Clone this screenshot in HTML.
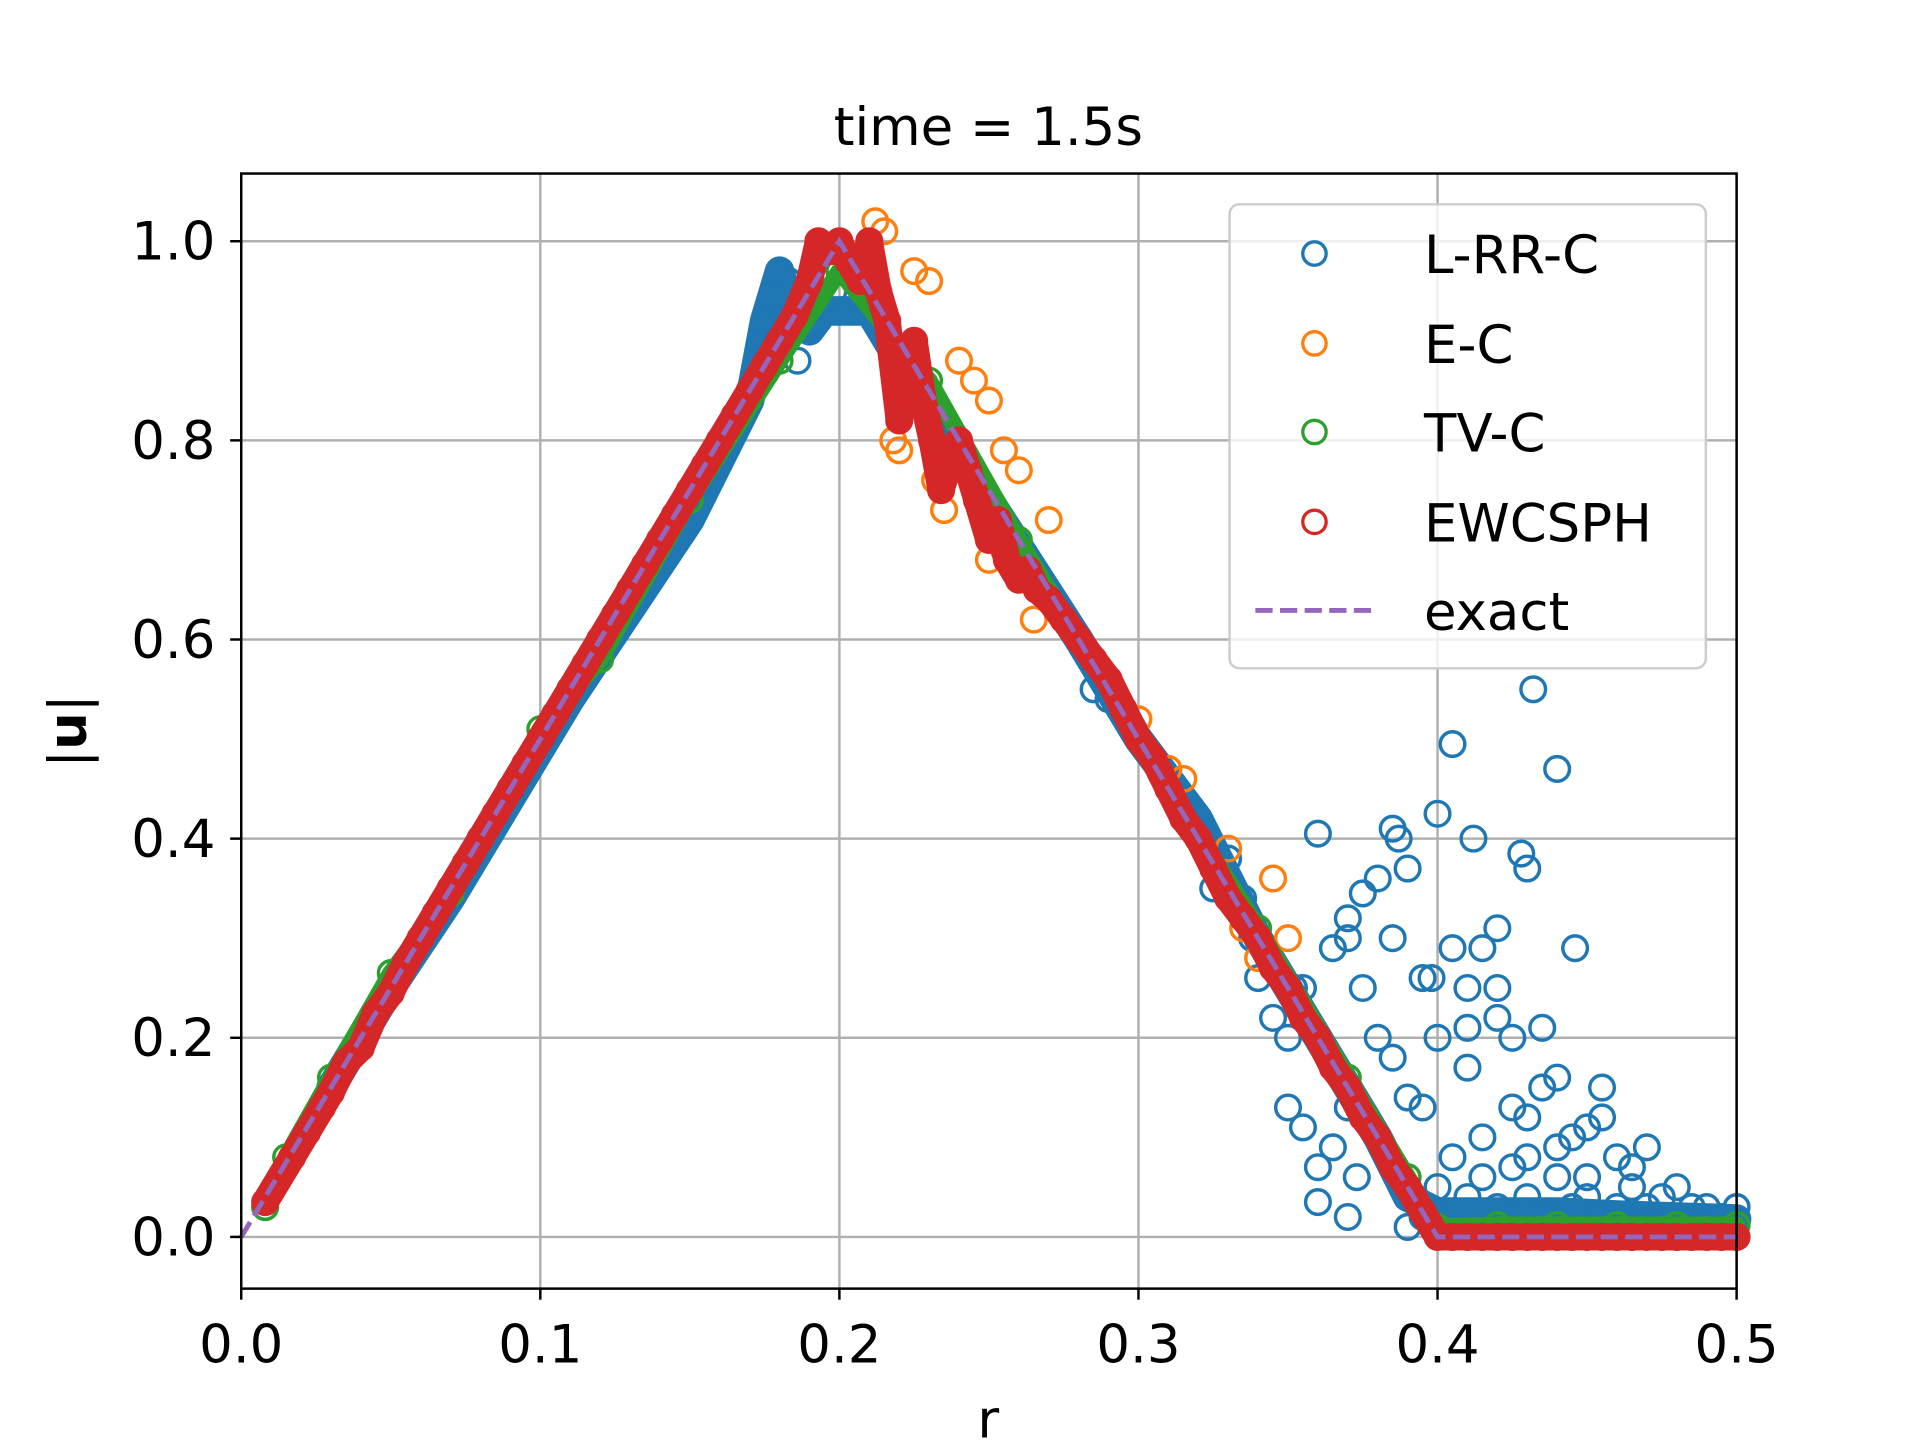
<!DOCTYPE html>
<html><head><meta charset="utf-8"><style>html,body{margin:0;padding:0;background:#fff}svg{display:block}text{font-family:"DejaVu Sans","Liberation Sans",sans-serif;fill:#000}</style></head>
<body>
<svg id="chart" width="1920" height="1440" viewBox="0 0 1560 1170" preserveAspectRatio="none" xmlns="http://www.w3.org/2000/svg">
<rect width="1560" height="1170" fill="#fff"/>
<text x="803" y="118" font-size="43" text-anchor="middle">time = 1.5s</text>
<g id="grid"></g>
<g id="marks"></g>
<rect x="196" y="141" width="1215" height="906" fill="none" stroke="#000" stroke-width="2"/>
<g id="ticks"></g>
<text x="803" y="1168" font-size="43" text-anchor="middle">r</text>
<text transform="translate(70,594) rotate(-90)" font-size="43" text-anchor="middle">|<tspan font-weight="bold">u</tspan>|</text>
<g>
<rect x="999" y="166" width="387" height="377" rx="8" fill="#fff" fill-opacity="0.8" stroke="#ccc" stroke-width="2"/>
<circle cx="1068" cy="206" r="9.5" fill="none" stroke="#1f77b4" stroke-width="2.7"/>
<text x="1157" y="222" font-size="43">L-RR-C</text>
<circle cx="1068" cy="279" r="9.5" fill="none" stroke="#ff7f0e" stroke-width="2.7"/>
<text x="1157" y="295" font-size="43">E-C</text>
<circle cx="1068" cy="351" r="9.5" fill="none" stroke="#2ca02c" stroke-width="2.7"/>
<text x="1157" y="367" font-size="43">TV-C</text>
<circle cx="1068" cy="424" r="9.5" fill="none" stroke="#d62728" stroke-width="2.7"/>
<text x="1157" y="440" font-size="43">EWCSPH</text>
<line x1="1020" y1="496" x2="1116" y2="496" stroke="#9467bd" stroke-width="4" stroke-dasharray="14,6"/>
<text x="1157" y="512" font-size="43">exact</text>
</g>
</svg>
<script>
const xTicks = [0.0, 0.1, 0.2, 0.3, 0.4, 0.5];
const xTickLabels = ["0.0","0.1","0.2","0.3","0.4","0.5"];
const yTicks = [0.0, 0.2, 0.4, 0.6, 0.8, 1.0];
const yTickLabels = ["0.0","0.2","0.4","0.6","0.8","1.0"];
const exactR = [0, 0.2, 0.4, 0.5];
const exactU = [0, 1, 0, 0];
const redPts = [[0.008,0.035],[0.017,0.08],[0.022,0.105],[0.027,0.13],[0.03,0.145],[0.035,0.175],[0.04,0.19],[0.045,0.225],[0.05,0.245],[0.055,0.275],[0.06,0.3],[0.065,0.325],[0.07,0.35],[0.075,0.375],[0.08,0.4],[0.085,0.425],[0.09,0.45],[0.095,0.475],[0.1,0.5],[0.105,0.525],[0.11,0.55],[0.115,0.575],[0.12,0.6],[0.125,0.625],[0.13,0.65],[0.135,0.675],[0.14,0.7],[0.145,0.725],[0.15,0.75],[0.155,0.775],[0.16,0.8],[0.165,0.825],[0.17,0.85],[0.175,0.875],[0.18,0.9],[0.185,0.925],[0.19,0.96],[0.193,1.0],[0.197,0.99],[0.2,1.0],[0.203,0.98],[0.207,0.96],[0.21,1.0],[0.213,0.95],[0.216,0.92],[0.22,0.82],[0.222,0.86],[0.225,0.9],[0.228,0.84],[0.231,0.8],[0.234,0.75],[0.237,0.78],[0.24,0.8],[0.243,0.77],[0.246,0.74],[0.25,0.7],[0.253,0.72],[0.256,0.68],[0.26,0.66],[0.263,0.67],[0.266,0.65],[0.27,0.64],[0.275,0.62],[0.28,0.6],[0.285,0.58],[0.29,0.56],[0.295,0.53],[0.3,0.5],[0.305,0.48],[0.31,0.45],[0.315,0.42],[0.32,0.4],[0.325,0.37],[0.33,0.34],[0.335,0.32],[0.34,0.3],[0.345,0.27],[0.35,0.25],[0.355,0.22],[0.36,0.2],[0.365,0.17],[0.37,0.15],[0.375,0.12],[0.38,0.1],[0.385,0.07],[0.39,0.05],[0.395,0.025],[0.4,0.0],[0.405,0],[0.41,0],[0.415,0],[0.42,0],[0.425,0],[0.43,0],[0.435,0],[0.44,0],[0.445,0],[0.45,0],[0.455,0],[0.46,0],[0.465,0],[0.47,0],[0.475,0],[0.48,0],[0.485,0],[0.49,0],[0.495,0],[0.5,0]];
const orangePts = [[0.212,1.02],[0.215,1.01],[0.225,0.97],[0.23,0.96],[0.22,0.79],[0.218,0.8],[0.235,0.73],[0.232,0.76],[0.24,0.88],[0.245,0.86],[0.25,0.84],[0.255,0.79],[0.26,0.77],[0.25,0.68],[0.255,0.69],[0.27,0.72],[0.265,0.62],[0.3,0.52],[0.31,0.47],[0.315,0.46],[0.32,0.4],[0.33,0.39],[0.335,0.31],[0.345,0.36],[0.35,0.3],[0.34,0.28]];
const greenPts = [[0.008,0.03],[0.015,0.08],[0.03,0.16],[0.05,0.265],[0.07,0.345],[0.1,0.51],[0.12,0.58],[0.15,0.74],[0.18,0.88],[0.2,0.97],[0.23,0.86],[0.26,0.7],[0.3,0.5],[0.34,0.31],[0.37,0.16],[0.39,0.06],[0.4,0.01],[0.42,0.012],[0.44,0.012],[0.46,0.012],[0.48,0.012],[0.5,0.012]];
const blueMainPts = [[0.03,0.15],[0.05,0.25],[0.07,0.34],[0.09,0.44],[0.11,0.54],[0.13,0.63],[0.15,0.72],[0.16,0.78],[0.17,0.84],[0.175,0.92],[0.18,0.97],[0.185,0.92],[0.19,0.91],[0.195,0.93],[0.2,0.93],[0.21,0.93],[0.22,0.88],[0.25,0.74],[0.28,0.6],[0.3,0.5],[0.32,0.42],[0.34,0.3],[0.36,0.2],[0.38,0.1],[0.39,0.04],[0.4,0.025],[0.42,0.025],[0.44,0.025],[0.46,0.022],[0.48,0.02],[0.5,0.018]];
const blueScatterPts = [[0.008,0.03],[0.183,0.96],[0.186,0.88],[0.198,0.95],[0.205,0.96],[0.285,0.55],[0.29,0.54],[0.315,0.44],[0.325,0.35],[0.33,0.38],[0.335,0.34],[0.338,0.3],[0.34,0.26],[0.345,0.22],[0.35,0.2],[0.352,0.25],[0.355,0.25],[0.35,0.13],[0.355,0.11],[0.36,0.07],[0.36,0.035],[0.37,0.02],[0.373,0.06],[0.365,0.29],[0.37,0.3],[0.37,0.32],[0.375,0.345],[0.38,0.36],[0.385,0.41],[0.387,0.4],[0.39,0.37],[0.36,0.405],[0.4,0.425],[0.412,0.4],[0.405,0.495],[0.432,0.55],[0.44,0.47],[0.428,0.385],[0.43,0.37],[0.42,0.31],[0.446,0.29],[0.405,0.29],[0.415,0.29],[0.398,0.26],[0.41,0.25],[0.42,0.25],[0.385,0.18],[0.39,0.14],[0.395,0.13],[0.4,0.2],[0.41,0.17],[0.415,0.1],[0.42,0.22],[0.425,0.13],[0.43,0.08],[0.435,0.15],[0.435,0.21],[0.44,0.16],[0.445,0.1],[0.45,0.06],[0.455,0.15],[0.455,0.12],[0.46,0.08],[0.465,0.05],[0.47,0.09],[0.475,0.04],[0.48,0.05],[0.485,0.03],[0.49,0.03],[0.495,0.02],[0.5,0.03],[0.4,0.05],[0.405,0.08],[0.41,0.04],[0.415,0.06],[0.42,0.03],[0.425,0.07],[0.43,0.04],[0.435,0.02],[0.44,0.06],[0.445,0.03],[0.45,0.04],[0.455,0.02],[0.46,0.03],[0.465,0.02],[0.47,0.03],[0.475,0.02],[0.48,0.02],[0.49,0.015],[0.5,0.015],[0.395,0.02],[0.39,0.01],[0.375,0.25],[0.38,0.2],[0.37,0.13],[0.365,0.09],[0.385,0.3],[0.395,0.26],[0.41,0.21],[0.425,0.2],[0.45,0.11],[0.465,0.07],[0.44,0.09],[0.43,0.12]];

const X0=196, X1=1411, Y0=1005, Y1=196;
function xs(v){return X0+(X1-X0)*v/0.5;}
function ys(v){return Y0+(Y1-Y0)*v;}
const NS="http://www.w3.org/2000/svg";
const grid=document.getElementById('grid'), marks=document.getElementById('marks'), ticks=document.getElementById('ticks');
function mk(tag,attrs,parent){const e=document.createElementNS(NS,tag);for(const k in attrs)e.setAttribute(k,attrs[k]);parent.appendChild(e);return e;}
xTicks.forEach((t,i)=>{
  const g=mk('line',{x1:xs(t),x2:xs(t),y1:141,y2:1047,stroke:'#b0b0b0','stroke-width':2},grid);
  
  
  const tk=mk('line',{x1:xs(t),x2:xs(t),y1:1047,y2:1056,stroke:'#000','stroke-width':2},ticks);
  
  
  const tl=mk('text',{x:xs(t),y:1107,'font-size':43,'text-anchor':'middle'},ticks);
  tl.textContent=xTickLabels[i];
  
  
});
yTicks.forEach((t,i)=>{
  const g=mk('line',{x1:196,x2:1411,y1:ys(t),y2:ys(t),stroke:'#b0b0b0','stroke-width':2},grid);
  
  
  const tk=mk('line',{x1:187,x2:196,y1:ys(t),y2:ys(t),stroke:'#000','stroke-width':2},ticks);
  
  
  const tl=mk('text',{x:175,y:ys(t)+15,'font-size':43,'text-anchor':'end'},ticks);
  tl.textContent=yTickLabels[i];
  
  
});
function drawBand(pts,color,width,name){
  const s=[...pts].sort((a,b)=>a[0]-b[0]);
  const b=mk('polyline',{points:s.map(p=>xs(p[0])+','+ys(p[1])).join(' '),fill:'none',stroke:color,'stroke-width':width,'stroke-linejoin':'round','stroke-linecap':'round'},marks);
  
  
}
function drawSeries(pts,color,name){
  const g=mk('g',{},marks);
  
  
  pts.forEach(p=>{
    const c=mk('circle',{cx:xs(p[0]),cy:ys(p[1]),r:10,fill:'none',stroke:color,'stroke-width':2.8},g);
    
    
  });
}
drawBand(blueMainPts,'#1f77b4',24,'series-lrrc-band');
drawSeries(blueMainPts,'#1f77b4','series-lrrc-main');
drawSeries(blueScatterPts,'#1f77b4','series-lrrc');
drawSeries(orangePts,'#ff7f0e','series-ec');
drawBand(greenPts,'#2ca02c',14,'series-tvc-band');
drawSeries(greenPts,'#2ca02c','series-tvc');
drawBand(redPts,'#d62728',22,'series-ewcsph-band');
drawSeries(redPts,'#d62728','series-ewcsph');
const ex=mk('polyline',{points:exactR.map((r,i)=>xs(r)+','+ys(exactU[i])).join(' '),fill:'none',stroke:'#9467bd','stroke-width':4,'stroke-dasharray':'14,6'},marks);


</script>
</body></html>
